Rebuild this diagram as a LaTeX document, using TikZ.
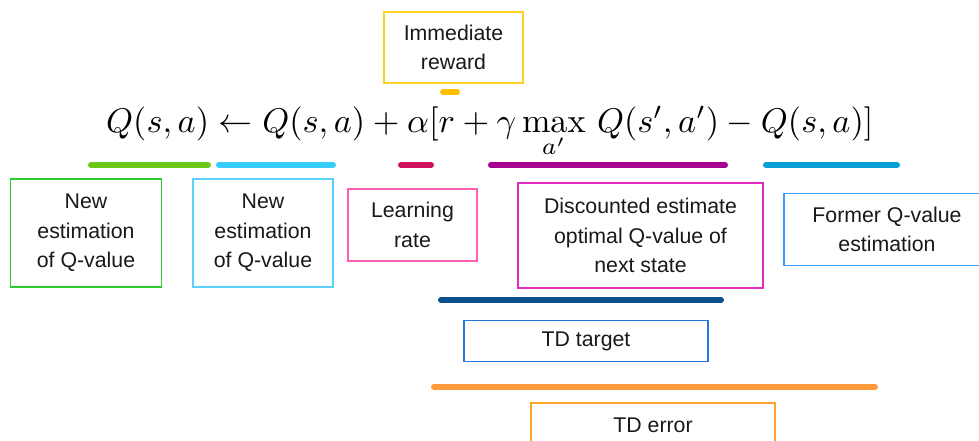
\documentclass[tikz,border=0pt]{standalone}
\usepackage{fontspec}
\usepackage{graphicx}
\newfontfamily\lbl{Liberation Sans}
\definecolor{cYellowBox}{HTML}{FFD21F}
\definecolor{cYellowBar}{HTML}{FFC000}
\definecolor{cGreenBox}{HTML}{2DCB2D}
\definecolor{cGreenBar}{HTML}{6CC817}
\definecolor{cCyanBox}{HTML}{5BD1FF}
\definecolor{cCyanBar}{HTML}{38CCFA}
\definecolor{cPinkBox}{HTML}{FF5FAE}
\definecolor{cCrimsonBar}{HTML}{D0105C}
\definecolor{cMagentaBox}{HTML}{E32BBE}
\definecolor{cPurpleBar}{HTML}{A5008F}
\definecolor{cBlueBox}{HTML}{3A9BFF}
\definecolor{cBlueBar}{HTML}{04A0D6}
\definecolor{cNavyBar}{HTML}{0A4E8C}
\definecolor{cTargetBox}{HTML}{2179DB}
\definecolor{cOrangeBar}{HTML}{FF9A3C}
\definecolor{cErrorBox}{HTML}{FFA32A}
\tikzset{
  labelbox/.style={draw=#1, line width=1.6pt, align=center, inner sep=0pt,
    font=\lbl\fontsize{21.3}{29.5}\selectfont, text=black!90},
  underbar/.style={draw=#1, line width=6pt, line cap=round},
}
\begin{document}
\begin{tikzpicture}[x=1pt,y=-1pt]
\clip (0,0) rectangle (979,441);
\fill[white] (0,0) rectangle (979,441);

% the update rule
\node[anchor=base west, inner sep=0pt] (eq) at (106,132)
  {\resizebox{767pt}{!}{$Q(s,a) \leftarrow Q(s,a) + \alpha[r + \gamma \max\limits_{a'}\, Q(s',a') - Q(s,a)]$}};

% reward label above the formula
\node[labelbox=cYellowBox, minimum width=139pt, minimum height=71pt] (reward) at (453.5,47.5)
  {Immediate\\reward};
\draw[underbar=cYellowBar] (443,92) -- (457,92);

% bars under the terms
\draw[underbar=cGreenBar]   (91,165)  -- (208,165);
\draw[underbar=cCyanBar]    (219,165) -- (333,165);
\draw[underbar=cCrimsonBar] (401,165) -- (431,165);
\draw[underbar=cPurpleBar]  (491,165) -- (725,165);
\draw[underbar=cBlueBar]    (766,165) -- (897,165);

% term descriptions
\node[labelbox=cGreenBox, minimum width=151pt, minimum height=108pt] (newq) at (86,233)
  {New\\estimation\\of Q-value};
\node[labelbox=cCyanBox, minimum width=140pt, minimum height=108pt] (oldq) at (263,233)
  {New\\estimation\\of Q-value};
\node[labelbox=cPinkBox, minimum width=129pt, minimum height=72pt] (alpha) at (412.5,225)
  {Learning\\rate};
\node[labelbox=cMagentaBox, minimum width=245pt, minimum height=105pt] (disc) at (640.5,235.5)
  {Discounted estimate\\optimal Q-value of\\next state};
\node[labelbox=cBlueBox, minimum width=206pt, minimum height=72pt] (former) at (887,229.5)
  {Former Q-value\\estimation};

% TD target
\draw[underbar=cNavyBar] (441,300) -- (721,300);
\node[labelbox=cTargetBox, minimum width=244pt, minimum height=41pt] (target) at (586,341)
  {TD target};

% TD error
\draw[underbar=cOrangeBar] (434,387) -- (875,387);
\node[labelbox=cErrorBox, minimum width=244pt, minimum height=44pt] (error) at (653,425)
  {TD error};
\end{tikzpicture}
\end{document}
